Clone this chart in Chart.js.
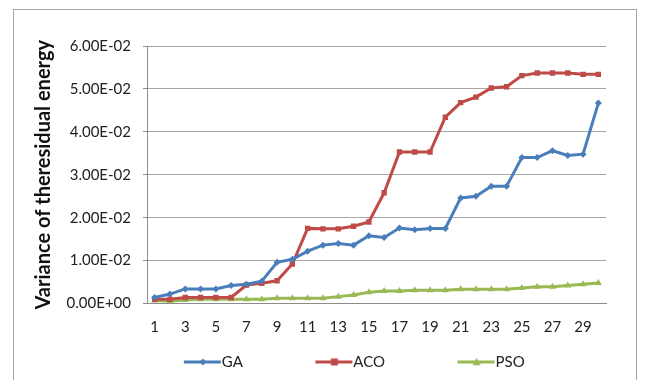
<!DOCTYPE html>
<html>
<head>
<meta charset="utf-8">
<script src="https://cdn.jsdelivr.net/npm/chart.js@4.4.1/dist/chart.umd.min.js"></script>
<style>
  html, body { margin: 0; padding: 0; background: #ffffff; }
  #wrap { position: relative; width: 646px; height: 380px; overflow: hidden; }
  #frame { position: absolute; left: 13px; top: 9px; width: 624px; height: 420px;
           border: 1px solid #a6a6a6; box-sizing: border-box; }
  canvas { position: absolute; left: 0; top: 0; }
</style>
</head>
<body>
<div id="wrap">
  <div id="frame"></div>
  <canvas id="chart" width="646" height="380"></canvas>
</div>
<script>
// Iterations 1..30
const iterations = [1,2,3,4,5,6,7,8,9,10,11,12,13,14,15,16,17,18,19,20,21,22,23,24,25,26,27,28,29,30];

// Variance of the residual energy per algorithm
const gaValues = [0.0014, 0.0022, 0.0034, 0.0034, 0.0034, 0.0042, 0.0045, 0.0052, 0.0096, 0.0103,
                  0.0122, 0.0136, 0.0140, 0.0136, 0.0158, 0.0154, 0.0176, 0.0172, 0.0175, 0.0175,
                  0.0246, 0.0250, 0.0273, 0.0273, 0.0340, 0.0340, 0.0356, 0.0345, 0.0348, 0.0467];
const acoValues = [0.0010, 0.0010, 0.0014, 0.0014, 0.0014, 0.0014, 0.0043, 0.0047, 0.0053, 0.0092,
                   0.0175, 0.0174, 0.0174, 0.0180, 0.0190, 0.0258, 0.0353, 0.0353, 0.0353, 0.0434,
                   0.0468, 0.0481, 0.0502, 0.0505, 0.0531, 0.0537, 0.0537, 0.0537, 0.0534, 0.0534];
const psoValues = [0.0007, 0.0005, 0.0008, 0.0010, 0.0010, 0.0010, 0.0010, 0.0010, 0.0012, 0.0012,
                   0.0012, 0.0012, 0.0016, 0.0020, 0.0026, 0.0029, 0.0029, 0.0031, 0.0031, 0.0031,
                   0.0033, 0.0033, 0.0033, 0.0033, 0.0036, 0.0039, 0.0039, 0.0042, 0.0045, 0.0048];

const seriesNames = ['GA', 'ACO', 'PSO'];
const yTicks = [0, 0.01, 0.02, 0.03, 0.04, 0.05, 0.06];

const colors = { GA: '#4a7ebb', ACO: '#be4b48', PSO: '#98b954' };
const FONT = 'Lato, "Open Sans", "DejaVu Sans", sans-serif';
const FONT_SIZE = 15;

// Excel-style scientific notation: 6.00E-02, 0.00E+00
function sci(v) {
  if (v === 0) return '0.00E+00';
  const [m, e] = v.toExponential(2).split('e');
  const n = parseInt(e, 10);
  return m + 'E' + (n < 0 ? '-' : '+') + String(Math.abs(n)).padStart(2, '0');
}

function drawMarker(ctx, shape, x, y, r, color) {
  ctx.fillStyle = color;
  ctx.beginPath();
  if (shape === 'rectRot') {
    ctx.moveTo(x, y - r); ctx.lineTo(x + r, y); ctx.lineTo(x, y + r); ctx.lineTo(x - r, y);
  } else if (shape === 'rect') {
    ctx.rect(x - r, y - r, 2 * r, 2 * r);
  } else {
    ctx.moveTo(x, y - r); ctx.lineTo(x + r, y + r * 0.8); ctx.lineTo(x - r, y + r * 0.8);
  }
  ctx.closePath();
  ctx.fill();
}

// Legend swatch: a short line with the series marker at the right end of a
// wider box, so that the line runs straight up to the label text.
const BOX_W = 93, SEG_W = 38;
const IMG_W = BOX_W + FONT_SIZE;   // image overhangs the box by fontSize/2 on each side
function swatch(color, shape, r) {
  const c = document.createElement('canvas');
  c.width = IMG_W; c.height = 12;
  const g = c.getContext('2d');
  g.strokeStyle = color; g.lineWidth = 3;
  g.beginPath(); g.moveTo(IMG_W - SEG_W, 6); g.lineTo(IMG_W - 1, 6); g.stroke();
  drawMarker(g, shape, IMG_W - SEG_W / 2, 6, r, color);
  return c;
}

const shapes = { GA: 'rectRot', ACO: 'rect', PSO: 'triangle' };
const radii = { GA: 3.5, ACO: 3.8, PSO: 4 };
const swatches = {
  GA: swatch(colors.GA, 'rectRot', 3.5),
  ACO: swatch(colors.ACO, 'rect', 3.5),
  PSO: swatch(colors.PSO, 'triangle', 4)
};

const valueSets = { GA: gaValues, ACO: acoValues, PSO: psoValues };

const datasets = seriesNames.map(name => ({
  label: name,
  data: valueSets[name],
  borderColor: colors[name],
  backgroundColor: colors[name],
  borderWidth: 3,
  pointStyle: shapes[name],
  pointRadius: radii[name],
  pointBorderWidth: 0,
  pointBackgroundColor: colors[name],
  tension: 0,
  fill: false
}));

// Let the legend row be centred on the whole canvas rather than the padded area
const legendFullWidth = {
  id: 'legendFullWidth',
  afterLayout(chart) {
    const lg = chart.legend;
    if (!lg) return;
    lg.left = 0;
    lg.right = chart.width;
    lg.width = chart.width;
  }
};

new Chart(document.getElementById('chart'), {
  type: 'line',
  data: { labels: iterations, datasets },
  plugins: [legendFullWidth],
  options: {
    responsive: false,
    animation: false,
    events: [],
    layout: { padding: { top: 46, right: 40, bottom: 0.5, left: 0 } },
    plugins: {
      tooltip: { enabled: false },
      legend: {
        position: 'bottom',
        labels: {
          usePointStyle: true,
          pointStyleWidth: BOX_W,
          padding: 10,
          color: '#222',
          font: { family: FONT, size: FONT_SIZE },
          generateLabels(chart) {
            const items = Chart.defaults.plugins.legend.labels.generateLabels(chart);
            items.forEach(it => { it.pointStyle = swatches[it.text]; });
            return items;
          }
        }
      }
    },
    scales: {
      x: {
        offset: true,
        grid: { display: false, drawTicks: false },
        border: { display: true, color: '#8c8c8c', width: 1 },
        ticks: {
          autoSkip: false,
          maxRotation: 0,
          padding: 15,
          color: '#222',
          font: { family: FONT, size: FONT_SIZE },
          callback(value, index) { return index % 2 === 0 ? iterations[index] : ''; }
        },
        afterFit(scale) { scale.height = 41; }
      },
      y: {
        min: 0,
        max: 0.06,
        afterBuildTicks(scale) { scale.ticks = yTicks.map(v => ({ value: v })); },
        grid: { color: '#a6a6a6', lineWidth: 1, drawTicks: true, tickLength: 4, tickColor: '#8c8c8c' },
        border: { display: true, color: '#8c8c8c', width: 1 },
        ticks: {
          padding: 12,
          color: '#222',
          font: { family: FONT, size: FONT_SIZE },
          callback(value) { return sci(value); }
        },
        title: {
          display: true,
          text: 'Variance of theresidual energy',
          color: '#111',
          font: { family: FONT, size: 20, weight: 'bold' },
          padding: { top: 32, bottom: 0 }
        },
        afterFit(scale) { scale.width = 147; }
      }
    }
  }
});
</script>
</body>
</html>
